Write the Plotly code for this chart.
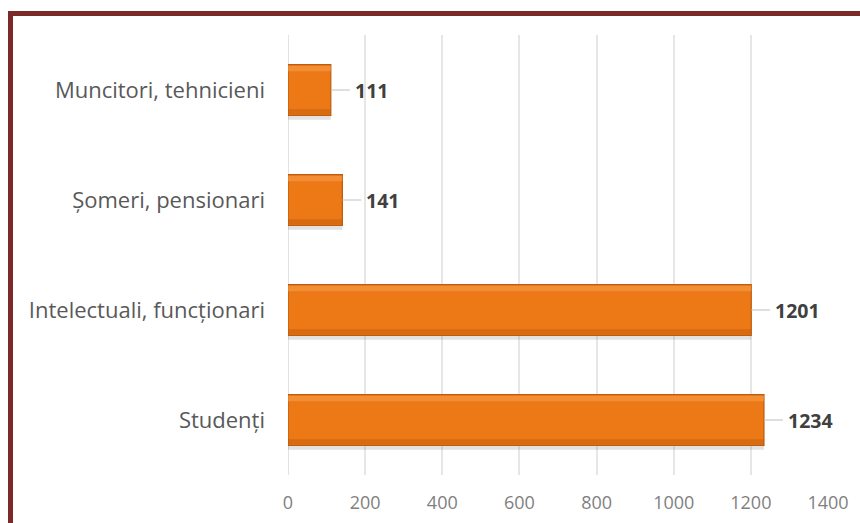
import plotly.graph_objects as go

categories = ["Studenți", "Intelectuali, funcționari", "Șomeri, pensionari", "Muncitori, tehnicieni"]
values = [1234, 1201, 141, 111]
x_ticks = [0, 200, 400, 600, 800, 1000, 1200, 1400]

W, H = 860, 523
ML, MR, MT, MB = 288, 32, 35, 48
PW, PH = W - ML - MR, H - MT - MB
FONT = "Open Sans, sans-serif"


def px_x(x):
    return (x - ML) / PW


def px_y(y):
    return 1 - (y - MT) / PH


fig = go.Figure()


def bar_layer(offset, width, color, line=None):
    fig.add_trace(go.Bar(
        y=categories, x=values, orientation="h", width=width, offset=offset,
        marker=dict(color=color, line=line or dict(width=0)),
        hoverinfo="skip", showlegend=False,
    ))


# soft drop shadow, main body, then gentle bevel highlight and shade strips
bar_layer(-0.27, 0.46, "rgba(110,110,110,0.20)")
bar_layer(-0.23, 0.46, "#EC7816", dict(color="#BE5C0C", width=1.2))
bar_layer(0.17, 0.05, "rgba(250,160,80,0.55)")
bar_layer(-0.22, 0.045, "rgba(190,90,10,0.45)")

# value labels with leader lines
for cat, v in zip(categories, values):
    fig.add_annotation(
        x=v, y=cat, xref="x", yref="y",
        text=f"<b>{v}</b>", showarrow=True, arrowhead=0, arrowwidth=1,
        arrowcolor="#BFBFBF", ax=19, ay=0, xanchor="left", borderpad=4,
        font=dict(family=FONT, size=19.5, color="#404040"),
    )

# frame lines at the top and left of the page
border = "#7B2A2A"
fig.add_shape(type="line", xref="paper", yref="paper",
              x0=px_x(8), x1=px_x(860), y0=px_y(13.5), y1=px_y(13.5),
              line=dict(color=border, width=5))
fig.add_shape(type="line", xref="paper", yref="paper",
              x0=px_x(10.5), x1=px_x(10.5), y0=px_y(11), y1=px_y(523),
              line=dict(color=border, width=5))

fig.update_layout(
    width=W, height=H,
    margin=dict(l=ML, r=MR, t=MT, b=MB),
    paper_bgcolor="white", plot_bgcolor="white",
    barmode="overlay",
    font=dict(family=FONT, color="#595959"),
    xaxis=dict(
        range=[0, 1400], tickvals=x_ticks, ticktext=[str(t) for t in x_ticks],
        showgrid=True, gridcolor="#E6E6E6", gridwidth=1.5, zeroline=False,
        showline=False, tickfont=dict(family=FONT, size=18, color="#7F7F7F"),
        ticks="", ticklabelstandoff=15, automargin=False,
    ),
    yaxis=dict(
        categoryorder="array", categoryarray=categories,
        range=[-0.5, len(categories) - 0.5],
        showgrid=False, zeroline=False, showline=False,
        tickfont=dict(family=FONT, size=22, color="#595959"), ticks="",
        ticklabelstandoff=22, automargin=False,
    ),
)
fig.add_shape(type="line", xref="x", yref="paper", x0=0, x1=0, y0=0, y1=1,
              line=dict(color="#D9D9D9", width=1.5), layer="below")

fig.write_html("out.html")
